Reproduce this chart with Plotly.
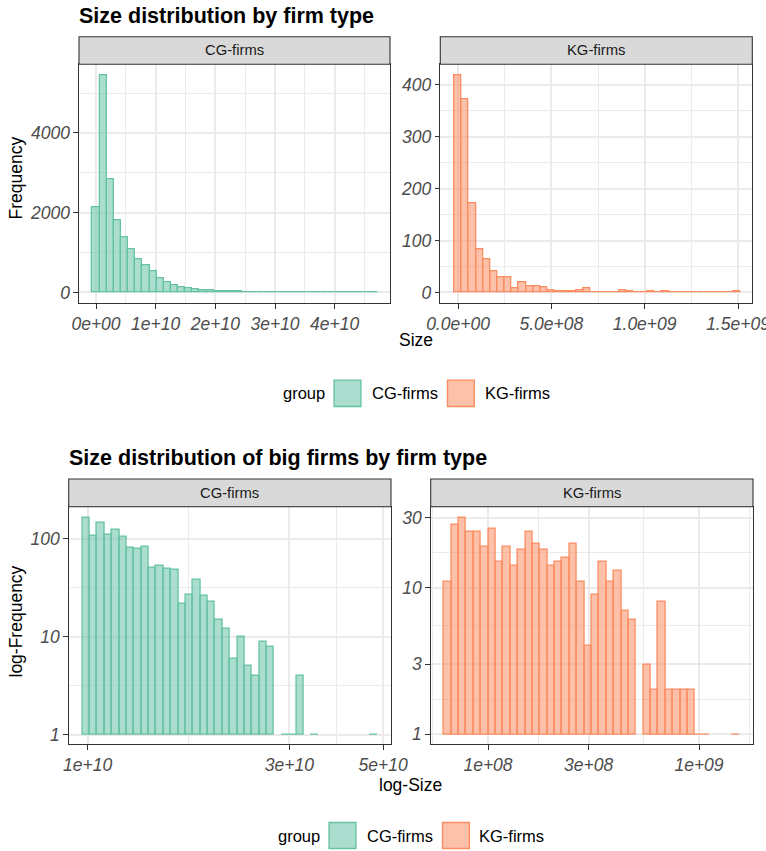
import numpy as np
import plotly.graph_objects as go

# ---------------- data ----------------
groups = ["CG-firms", "KG-firms"]

# top figure: linear histograms (40 bins each)
cg_size_counts = [2142, 5448, 2845, 1816, 1372, 1079, 820, 678, 527, 343,
                  267, 178, 125, 92, 67, 63, 48, 38, 32, 25,
                  20, 16, 13, 10, 9, 7, 6, 5, 4, 3,
                  3, 2, 2, 2, 1, 1, 1, 1, 0, 1]
kg_size_counts = [418, 372, 172, 83, 63, 40, 30, 30, 8, 20,
                  12, 11, 10, 4, 3, 3, 2, 4, 8, 1,
                  1, 1, 1, 4, 2, 1, 0, 2, 1, 2,
                  0, 1, 0, 0, 1, 0, 0, 0, 0, 3]
cg_bin_start = -5.98e8      # left edge of first bin (Size)
cg_bin_width = 1.196e9
kg_bin_start = -1.915e7
kg_bin_width = 3.83e7

# bottom figure: log10 histograms of big firms (40 bins each)
cg_big_counts = [164, 109, 146, 111, 123, 106, 82, 79, 84, 51,
                 53, 50, 48, 22, 27, 38, 26, 23, 15, 12,
                 6, 10, 5, 4, 9, 8, 0, 1, 1, 4,
                 0, 1, 0, 0, 0, 0, 0, 0, 0, 1]
kg_big_counts = [11, 27, 30, 24, 24, 19, 25, 15, 19, 14,
                 18, 24, 20, 18, 14, 15, 16, 20, 11, 4,
                 9, 15, 11, 13, 7, 6, 0, 3, 2, 8,
                 2, 2, 2, 2, 1, 1, 0, 0, 0, 1]
cg_big_log_start = 9.98737   # log10(Size) left edge of first bin
cg_big_log_width = 0.01745
kg_big_log_start = 7.7915
kg_big_log_width = 0.03499

# tick definitions
top_cg_xticks = [0, 1e10, 2e10, 3e10, 4e10]
top_cg_xtext = ["0e+00", "1e+10", "2e+10", "3e+10", "4e+10"]
top_kg_xticks = [0, 5e8, 1e9, 1.5e9]
top_kg_xtext = ["0.0e+00", "5.0e+08", "1.0e+09", "1.5e+09"]
top_cg_yticks = [0, 2000, 4000]
top_kg_yticks = [0, 100, 200, 300, 400]
bot_cg_xticks = [1e10, 3e10, 5e10]
bot_cg_xtext = ["1e+10", "3e+10", "5e+10"]
bot_kg_xticks = [1e8, 3e8, 1e9]
bot_kg_xtext = ["1e+08", "3e+08", "1e+09"]
bot_cg_yticks = [1, 10, 100]
bot_kg_yticks = [1, 3, 10, 30]

# ---------------- style ----------------
W, H = 766, 851
FONT = "Liberation Sans, Arial, sans-serif"
CG_LINE, CG_FILL = "#66C2A5", "rgba(102,194,165,0.55)"
KG_LINE, KG_FILL = "#FC8D62", "rgba(252,141,98,0.55)"
GRID = "#EBEBEB"
DARK = "#333333"


def pxx(x):
    return x / W


def pxy(y):
    return 1 - y / H


def centers(start, width, n):
    return [start + width * (k + 0.5) for k in range(n)]


def logcounts(c):
    return [np.log10(v) if v > 0 else None for v in c]


def mids(vals):
    return [(a + b) / 2 for a, b in zip(vals[:-1], vals[1:])]


fig = go.Figure()

specs = [
    ("x", "y", centers(cg_bin_start, cg_bin_width, len(cg_size_counts)), cg_size_counts, cg_bin_width, CG_FILL, CG_LINE),
    ("x2", "y2", centers(kg_bin_start, kg_bin_width, len(kg_size_counts)), kg_size_counts, kg_bin_width, KG_FILL, KG_LINE),
    ("x3", "y3", centers(cg_big_log_start, cg_big_log_width, len(cg_big_counts)), logcounts(cg_big_counts), cg_big_log_width, CG_FILL, CG_LINE),
    ("x4", "y4", centers(kg_big_log_start, kg_big_log_width, len(kg_big_counts)), logcounts(kg_big_counts), kg_big_log_width, KG_FILL, KG_LINE),
]
for xa, ya, xs, ys, w, fc, lc in specs:
    fig.add_trace(go.Bar(x=xs, y=ys, width=w, xaxis=xa, yaxis=ya, showlegend=False,
                         marker=dict(color=fc, line=dict(color=lc, width=1.3))))

tickfont = dict(family=FONT, size=17.5, color="#4D4D4D", style="italic")


def axis(domain, rng, tickvals, ticktext, minor, anchor):
    return dict(domain=domain, range=rng, tickmode="array", tickvals=tickvals, ticktext=ticktext,
                showline=True, mirror=True, linecolor=DARK, linewidth=1.1,
                ticks="outside", ticklen=4.5, tickwidth=1.1, tickcolor=DARK,
                showgrid=True, gridcolor=GRID, gridwidth=1.6, zeroline=False,
                tickfont=tickfont, anchor=anchor, fixedrange=True, automargin=False,
                ticklabeloverflow="allow",
                minor=dict(tickvals=minor, showgrid=True, gridcolor=GRID, gridwidth=0.9, ticks=""))


top_y = [pxy(303.3), pxy(64.3)]
bot_y = [pxy(744.3), pxy(506.7)]

lx = lambda v: [float(np.log10(t)) for t in v]

layout_axes = dict(
    xaxis=axis([pxx(79), pxx(390)], [-2.85e9, 4.927e10], top_cg_xticks, top_cg_xtext,
               mids(top_cg_xticks + [5e10]), "y"),
    yaxis=axis(top_y, [-272, 5720], top_cg_yticks, [str(v) for v in top_cg_yticks],
               mids(top_cg_yticks + [6000]), "x"),
    xaxis2=axis([pxx(440.3), pxx(752.3)], [-9.48e7, 1.5766e9], top_kg_xticks, top_kg_xtext,
                mids(top_kg_xticks), "y2"),
    yaxis2=axis(top_y, [-20.9, 439.8], top_kg_yticks, [str(v) for v in top_kg_yticks],
                mids(top_kg_yticks + [500]), "x2"),
    xaxis3=axis([pxx(68.7), pxx(391)], [9.9551, 10.7176], lx(bot_cg_xticks), bot_cg_xtext,
                mids(lx(bot_cg_xticks)), "y3"),
    yaxis3=axis(bot_y, [-0.1, 2.33], lx(bot_cg_yticks), [str(v) for v in bot_cg_yticks],
                mids(lx(bot_cg_yticks)), "x3"),
    xaxis4=axis([pxx(430.7), pxx(753)], [7.7284, 9.2559], lx(bot_kg_xticks), bot_kg_xtext,
                mids(lx([3e7] + bot_kg_xticks + [3e9])), "y4"),
    yaxis4=axis(bot_y, [-0.068, 1.551], lx(bot_kg_yticks), [str(v) for v in bot_kg_yticks],
                mids(lx(bot_kg_yticks)), "x4"),
)

shapes = []
annotations = []

# facet strips
for (x0, x1, y0, y1, label) in [(79, 390, 36.7, 64.3, groups[0]), (440.3, 752.3, 36.7, 64.3, groups[1]),
                                (68.7, 391, 479, 506.7, groups[0]), (430.7, 753, 479, 506.7, groups[1])]:
    shapes.append(dict(type="rect", xref="paper", yref="paper", x0=pxx(x0), x1=pxx(x1),
                       y0=pxy(y1), y1=pxy(y0), fillcolor="#D9D9D9", line=dict(color=DARK, width=1.1)))
    annotations.append(dict(xref="paper", yref="paper", x=pxx((x0 + x1) / 2), y=pxy((y0 + y1) / 2),
                            text=label, showarrow=False, xanchor="center", yanchor="middle",
                            font=dict(family=FONT, size=14.8, color="#1A1A1A")))

# titles
annotations.append(dict(xref="paper", yref="paper", x=pxx(77), y=pxy(15.5), text="<b>Size distribution by firm type</b>",
                        showarrow=False, xanchor="left", yanchor="middle", font=dict(family=FONT, size=21.5, color="black")))
annotations.append(dict(xref="paper", yref="paper", x=pxx(67), y=pxy(458), text="<b>Size distribution of big firms by firm type</b>",
                        showarrow=False, xanchor="left", yanchor="middle", font=dict(family=FONT, size=21.5, color="black")))

# axis titles
axt = dict(family=FONT, size=17.5, color="black")
annotations += [
    dict(xref="paper", yref="paper", x=pxx(415.6), y=pxy(340), text="Size", showarrow=False,
         xanchor="center", yanchor="middle", font=axt),
    dict(xref="paper", yref="paper", x=pxx(15.5), y=pxy(178), text="Frequency", showarrow=False, textangle=-90,
         xanchor="center", yanchor="middle", font=axt),
    dict(xref="paper", yref="paper", x=pxx(410.8), y=pxy(785), text="log-Size", showarrow=False,
         xanchor="center", yanchor="middle", font=axt),
    dict(xref="paper", yref="paper", x=pxx(15.5), y=pxy(622), text="log-Frequency", showarrow=False, textangle=-90,
         xanchor="center", yanchor="middle", font=axt),
]

# legends (drawn manually to match the large key boxes)
legf = dict(family=FONT, size=16.5, color="black")
for (gx, k1, t1, k2, t2, ky0, ky1) in [(281.7, 333.3, 370.7, 446.7, 484, 379.3, 407.3),
                                       (276.7, 328.3, 365.7, 441.7, 478.3, 821.7, 849.3)]:
    yc = pxy((ky0 + ky1) / 2)
    annotations.append(dict(xref="paper", yref="paper", x=pxx(gx - 1), y=yc, text="group", showarrow=False,
                            xanchor="left", yanchor="middle", font=legf))
    for kx, tx, fc, lc, label in [(k1, t1, CG_FILL, CG_LINE, groups[0]), (k2, t2, KG_FILL, KG_LINE, groups[1])]:
        shapes.append(dict(type="rect", xref="paper", yref="paper", x0=pxx(kx + 0.8), x1=pxx(kx + 27.6),
                           y0=pxy(ky1 - 0.8), y1=pxy(ky0 + 0.8), fillcolor=fc, line=dict(color=lc, width=1.4)))
        annotations.append(dict(xref="paper", yref="paper", x=pxx(tx - 1), y=yc, text=label, showarrow=False,
                                xanchor="left", yanchor="middle", font=legf))

fig.update_layout(
    width=W, height=H, margin=dict(l=0, r=0, t=0, b=0, autoexpand=False),
    paper_bgcolor="white", plot_bgcolor="white",
    bargap=0, barmode="overlay", showlegend=False,
    shapes=shapes, annotations=annotations,
    font=dict(family=FONT),
    **layout_axes,
)

# remove the browser's default 8px body margin so the figure fills the window exactly
fig.write_html("out.html", config={"displayModeBar": False},
               post_script="document.body.style.margin='0px';document.body.style.overflow='hidden';")
